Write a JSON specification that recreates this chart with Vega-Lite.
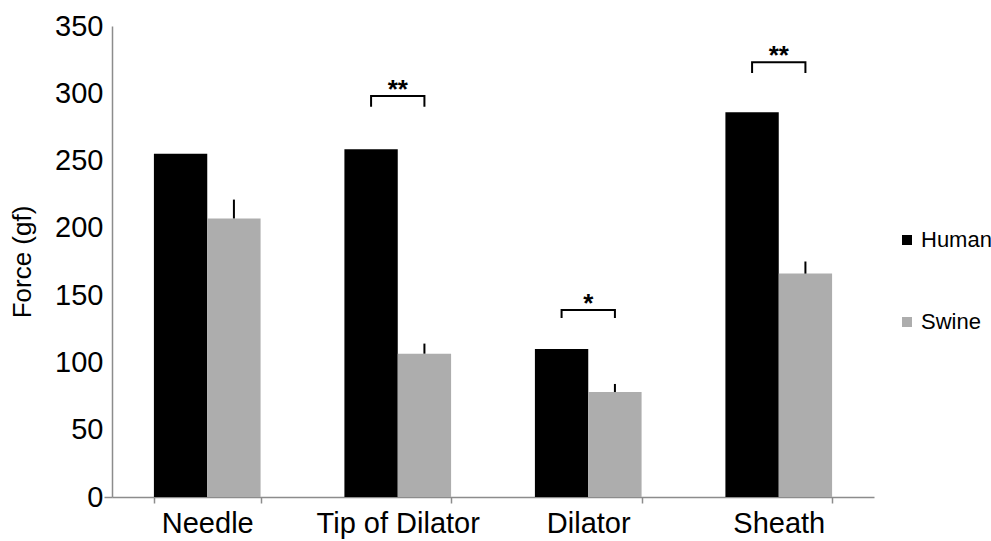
{
  "$schema": "https://vega.github.io/schema/vega-lite/v6.json",
  "width": 762,
  "height": 471,
  "autosize": {"type": "none"},
  "padding": {"left": 112, "top": 26, "right": 117, "bottom": 44},
  "background": "white",
  "config": {
    "view": {"stroke": null},
    "font": "Liberation Sans",
    "axisX": {"domainColor": "#8c8c8c", "domainWidth": 1.5, "tickColor": "#8c8c8c", "tickSize": 6, "tickWidth": 1.5, "tickBand": "extent", "labelFontSize": 29, "labelColor": "#000000", "labelPadding": 6, "labelAngle": 0, "title": null},
    "axisY": {"domainColor": "#8c8c8c", "domainWidth": 1.5, "tickColor": "#8c8c8c", "tickWidth": 1.5, "tickSize": 8, "labelFontSize": 29, "labelColor": "#000000", "labelPadding": 1, "titleFontSize": 26, "titleFontWeight": "normal", "titleColor": "#000000", "titlePadding": 19, "grid": false}
  },
  "datasets": {
    "bars": [
      {"category": "Needle", "group": "Human", "value": 255},
      {"category": "Needle", "group": "Swine", "value": 207, "err": 221},
      {"category": "Tip of Dilator", "group": "Human", "value": 258.5},
      {"category": "Tip of Dilator", "group": "Swine", "value": 106.5, "err": 114},
      {"category": "Dilator", "group": "Human", "value": 110},
      {"category": "Dilator", "group": "Swine", "value": 78, "err": 84},
      {"category": "Sheath", "group": "Human", "value": 286},
      {"category": "Sheath", "group": "Swine", "value": 166, "err": 175}
    ],
    "brackets": [
      {"category": "Tip of Dilator", "group": "Human", "y": 290, "order": 1},
      {"category": "Tip of Dilator", "group": "Human", "y": 298, "order": 2},
      {"category": "Tip of Dilator", "group": "Swine", "y": 298, "order": 3},
      {"category": "Tip of Dilator", "group": "Swine", "y": 290, "order": 4},
      {"category": "Dilator", "group": "Human", "y": 133, "order": 1},
      {"category": "Dilator", "group": "Human", "y": 139, "order": 2},
      {"category": "Dilator", "group": "Swine", "y": 139, "order": 3},
      {"category": "Dilator", "group": "Swine", "y": 133, "order": 4},
      {"category": "Sheath", "group": "Human", "y": 315, "order": 1},
      {"category": "Sheath", "group": "Human", "y": 323, "order": 2},
      {"category": "Sheath", "group": "Swine", "y": 323, "order": 3},
      {"category": "Sheath", "group": "Swine", "y": 315, "order": 4}
    ],
    "stars": [
      {"category": "Tip of Dilator", "label": "**", "y": 298},
      {"category": "Dilator", "label": "*", "y": 139},
      {"category": "Sheath", "label": "**", "y": 323}
    ]
  },
  "layer": [
    {
      "mark": {"type": "rule", "color": "#8c8c8c", "strokeWidth": 1.5},
      "encoding": {"y": {"datum": 200, "type": "quantitative", "scale": {"domain": [0, 350], "nice": false}}}
    },
    {
      "data": {"name": "bars"},
      "mark": {"type": "bar"},
      "encoding": {
        "x": {"field": "category", "type": "nominal", "sort": ["Needle", "Tip of Dilator", "Dilator", "Sheath"], "scale": {"paddingInner": 0.44, "paddingOuter": 0.22}},
        "xOffset": {"field": "group", "type": "nominal", "sort": ["Human", "Swine"], "scale": {"paddingInner": 0, "paddingOuter": 0}},
        "y": {"field": "value", "type": "quantitative", "scale": {"domain": [0, 350], "nice": false}, "axis": {"values": [0, 50, 100, 150, 200, 250, 300, 350], "title": "Force (gf)", "tickOpacity": {"condition": {"test": "datum.value === 0", "value": 1}, "value": 0}}},
        "color": {"field": "group", "type": "nominal", "scale": {"domain": ["Human", "Swine"], "range": ["#000000", "#adadad"]}, "legend": {"orient": "none", "legendX": 784, "legendY": 203, "title": null, "symbolType": "square", "symbolSize": 100, "symbolStrokeWidth": 0, "labelFontSize": 22, "labelColor": "#000000", "labelOffset": 3, "rowPadding": 60, "padding": 0}}
      }
    },
    {
      "data": {"name": "bars"},
      "transform": [{"filter": "datum.group === 'Swine'"}],
      "mark": {"type": "rule", "color": "#000000", "strokeWidth": 2},
      "encoding": {
        "x": {"field": "category", "type": "nominal", "sort": ["Needle", "Tip of Dilator", "Dilator", "Sheath"]},
        "xOffset": {"field": "group", "type": "nominal", "sort": ["Human", "Swine"]},
        "y": {"field": "value", "type": "quantitative"},
        "y2": {"field": "err"}
      }
    },
    {
      "data": {"name": "brackets"},
      "mark": {"type": "line", "color": "#000000", "strokeWidth": 2},
      "encoding": {
        "x": {"field": "category", "type": "nominal", "sort": ["Needle", "Tip of Dilator", "Dilator", "Sheath"]},
        "xOffset": {"field": "group", "type": "nominal", "sort": ["Human", "Swine"]},
        "y": {"field": "y", "type": "quantitative"},
        "order": {"field": "order"},
        "detail": {"field": "category"}
      }
    },
    {
      "data": {"name": "stars"},
      "mark": {"type": "text", "fontSize": 26, "fontWeight": "bold", "baseline": "alphabetic", "dy": 2, "color": "#000000"},
      "encoding": {
        "x": {"field": "category", "type": "nominal", "sort": ["Needle", "Tip of Dilator", "Dilator", "Sheath"]},
        "y": {"field": "y", "type": "quantitative"},
        "text": {"field": "label"}
      }
    }
  ]
}
